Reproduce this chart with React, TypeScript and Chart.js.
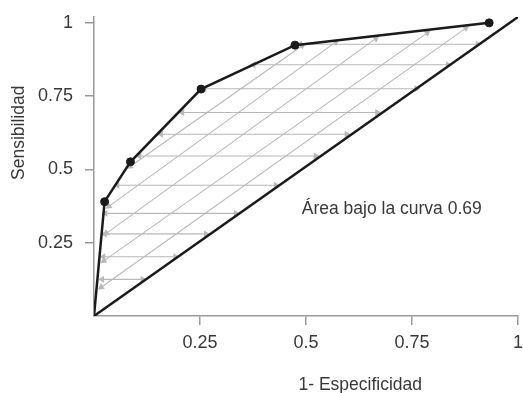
import React, { useEffect, useRef } from "react";
import { Chart, registerables } from "chart.js";

Chart.register(...registerables);

// ROC curve (1 - especificidad, sensibilidad)
const rocX = [0, 0.025, 0.086, 0.2525, 0.474, 0.932];
const rocY = [0, 0.39, 0.526, 0.774, 0.924, 1.0];
const rocPointRadius = [0, 4, 4, 4, 4, 4];

// reference (chance) line
const chanceX = [0, 1];
const chanceY = [0, 1.02];

// ticks
const xTicks = [0.25, 0.5, 0.75, 1];
const xTickLabels = ["0.25", "0.5", "0.75", "1"];
const yTicks = [0.25, 0.5, 0.75, 1];
const yTickLabels = ["0.25", "0.5", "0.75", "1"];

// horizontal hatch arrows
const hArrowY = [0.125, 0.202, 0.28, 0.35, 0.446, 0.546, 0.62, 0.694, 0.775, 0.857, 0.927];
const hArrowXStart = [0.019, 0.022, 0.025, 0.027, 0.055, 0.107, 0.158, 0.208, 0.26, 0.376, 0.486];
const hArrowXEnd = [0.115, 0.192, 0.264, 0.335, 0.429, 0.523, 0.596, 0.668, 0.76, 0.835, 0.905];

// diagonal hatch arrows
const dArrowX0 = [0.017, 0.023, 0.029, 0.035, 0.085];
const dArrowY0 = [0.098, 0.188, 0.282, 0.374, 0.51];
const dArrowX1 = [0.877, 0.786, 0.665, 0.5706, 0.491];
const dArrowY1 = [0.982, 0.966, 0.947, 0.935, 0.922];

const xTitle = "1- Especificidad";
const yTitle = "Sensibilidad";
const areaLabel = "Área bajo la curva 0.69";

const FONT = '"Liberation Sans", Arial, sans-serif';
const TEXT = "#383838";
const AXIS = "#9a9a9a";
const HATCH = "#b8b8b8";

export default function App() {
  const ref = useRef<HTMLCanvasElement | null>(null);

  useEffect(() => {
    if (!ref.current) return;

    const hatch: any[] = [];
    hArrowY.forEach((y, i) => {
      hatch.push({ x: hArrowXStart[i], y, rot: 270 });
      hatch.push({ x: hArrowXEnd[i], y, rot: 90 });
      hatch.push({ x: hArrowXEnd[i], y: null, rot: 0 });
    });
    dArrowX0.forEach((x0, i) => {
      hatch.push({ x: x0, y: dArrowY0[i], rot: 235 });
      hatch.push({ x: dArrowX1[i], y: dArrowY1[i], rot: 55 });
      hatch.push({ x: dArrowX1[i], y: null, rot: 0 });
    });

    const textPlugin = {
      id: "texts",
      afterDraw(chart: any) {
        const { ctx } = chart;
        const x = chart.scales.x;
        const y = chart.scales.y;
        ctx.save();
        ctx.fillStyle = TEXT;
        ctx.font = `17.5px ${FONT}`;
        ctx.textBaseline = "alphabetic";
        ctx.textAlign = "left";
        ctx.fillText(areaLabel, x.getPixelForValue(0.49), y.getPixelForValue(0.347));
        ctx.textAlign = "center";
        ctx.fillText(xTitle, x.getPixelForValue(0.628), 390);
        ctx.translate(24, y.getPixelForValue(0.625));
        ctx.rotate(-Math.PI / 2);
        ctx.fillText(yTitle, 0, 0);
        ctx.restore();
      },
    };

    const chart = new Chart(ref.current, {
      type: "scatter",
      data: {
        datasets: [
          {
            data: rocX.map((x, i) => ({ x, y: rocY[i] })),
            showLine: true,
            borderColor: "#1a1a1a",
            borderWidth: 2.5,
            pointRadius: rocPointRadius,
            pointBackgroundColor: "#1a1a1a",
            pointBorderColor: "#1a1a1a",
            pointBorderWidth: 1,
            order: 0,
          },
          {
            data: chanceX.map((x, i) => ({ x, y: chanceY[i] })),
            showLine: true,
            borderColor: "#1a1a1a",
            borderWidth: 2.5,
            pointRadius: 0,
            order: 1,
          },
          {
            data: hatch,
            showLine: true,
            spanGaps: false,
            borderColor: HATCH,
            borderWidth: 1.1,
            pointStyle: "triangle",
            pointRadius: (c: any) => (c.raw && c.raw.y != null ? 4 : 0),
            pointRotation: (c: any) => (c.raw ? c.raw.rot : 0),
            pointBackgroundColor: HATCH,
            pointBorderColor: HATCH,
            pointBorderWidth: 0,
            order: 2,
          } as any,
        ],
      },
      options: {
        animation: false,
        responsive: false,
        events: [],
        layout: { padding: { top: 17, right: 4, left: 0, bottom: 0 } },
        plugins: { legend: { display: false }, tooltip: { enabled: false } },
        scales: {
          x: {
            type: "linear",
            min: 0,
            max: 1,
            afterBuildTicks: (s: any) => {
              s.ticks = xTicks.map((v) => ({ value: v }));
            },
            afterFit: (s: any) => {
              s.height = 77;
              s.paddingLeft = 0;
              s.paddingRight = 0;
            },
            ticks: {
              autoSkip: false,
              maxRotation: 0,
              padding: 7,
              color: TEXT,
              font: { family: FONT, size: 18 },
              callback: (v: any) => {
                const i = xTicks.indexOf(Number(v));
                return i >= 0 ? xTickLabels[i] : "";
              },
            },
            grid: {
              display: true,
              drawOnChartArea: false,
              drawTicks: true,
              tickLength: 9,
              color: AXIS,
              lineWidth: 1.5,
            },
            border: { display: true, color: AXIS, width: 1.5 },
          },
          y: {
            type: "linear",
            min: 0,
            max: 1.02,
            afterBuildTicks: (s: any) => {
              s.ticks = yTicks.map((v) => ({ value: v }));
            },
            afterFit: (s: any) => {
              s.width = 94;
              s.paddingTop = 0;
              s.paddingBottom = 0;
            },
            ticks: {
              autoSkip: false,
              padding: 12,
              color: TEXT,
              font: { family: FONT, size: 18 },
              callback: (v: any) => {
                const i = yTicks.indexOf(Number(v));
                return i >= 0 ? yTickLabels[i] : "";
              },
            },
            grid: {
              display: true,
              drawOnChartArea: false,
              drawTicks: true,
              tickLength: 9,
              color: AXIS,
              lineWidth: 1.5,
            },
            border: { display: true, color: AXIS, width: 1.5 },
          },
        },
      },
      plugins: [textPlugin],
    } as any);

    return () => chart.destroy();
  }, []);

  return (
    <div style={{ position: "absolute", left: 0, top: 0, width: 523, height: 393, background: "#fff" }}>
      <canvas ref={ref} width={523} height={393} style={{ display: "block" }} />
    </div>
  );
}
